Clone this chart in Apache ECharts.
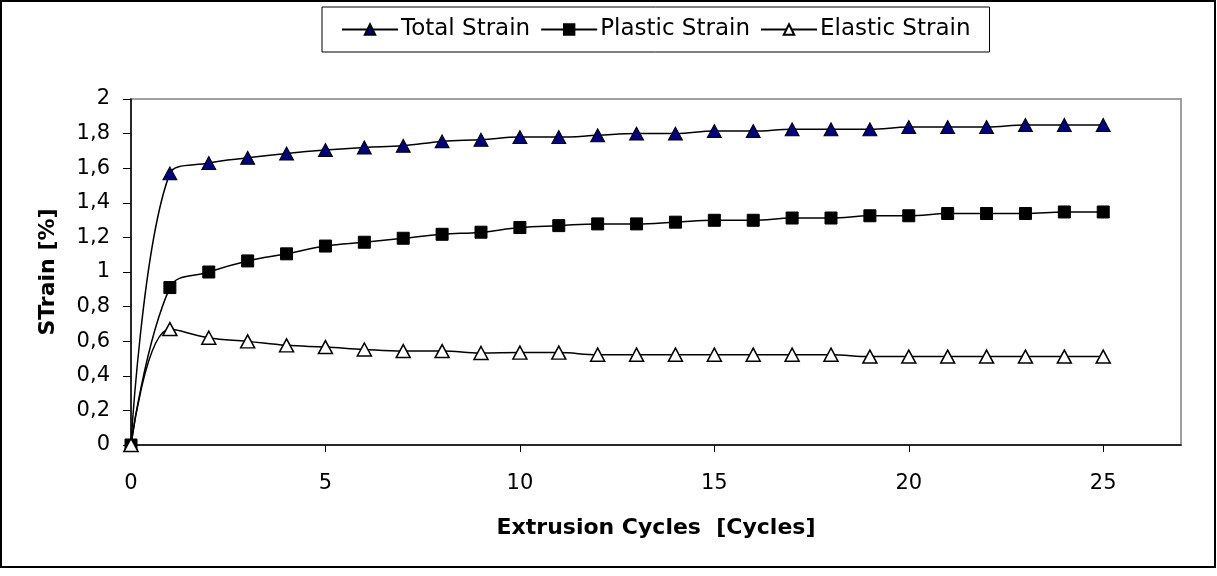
<!DOCTYPE html>
<html>
<head>
<meta charset="utf-8">
<script src="https://cdn.jsdelivr.net/npm/echarts@6/dist/echarts.min.js"></script>
<style>
  html, body { margin: 0; padding: 0; background: #fff; }
  #myCharts { width: 1217px; height: 576px; }
</style>
</head>
<body>
<div id="myCharts"></div>
<script>
const chart = echarts.init(document.getElementById("myCharts"));

// extrusion cycles
const cycles = [0, 1, 2, 3, 4, 5, 6, 7, 8, 9, 10, 11, 12, 13, 14, 15, 16, 17, 18, 19, 20, 21, 22, 23, 24, 25];

// strain values [%]
const totalStrain = [0, 1.57, 1.63, 1.66, 1.685, 1.705, 1.72, 1.73, 1.755, 1.765, 1.78, 1.78, 1.79, 1.80, 1.80, 1.815, 1.815, 1.825, 1.825, 1.825, 1.838, 1.838, 1.838, 1.85, 1.85, 1.85];
const plasticStrain = [0, 0.91, 1.00, 1.064, 1.105, 1.15, 1.172, 1.195, 1.218, 1.23, 1.257, 1.268, 1.278, 1.278, 1.288, 1.299, 1.299, 1.312, 1.312, 1.325, 1.325, 1.338, 1.338, 1.338, 1.347, 1.347];
const elasticStrain = [0, 0.67, 0.62, 0.599, 0.576, 0.566, 0.552, 0.543, 0.543, 0.532, 0.534, 0.534, 0.522, 0.522, 0.522, 0.522, 0.522, 0.522, 0.522, 0.511, 0.511, 0.511, 0.511, 0.511, 0.511, 0.511];

const yTicks = ["0", "0,2", "0,4", "0,6", "0,8", "1", "1,2", "1,4", "1,6", "1,8", "2"];

const font = "DejaVu Sans";

const pairs = arr => cycles.map((c, i) => [c, arr[i]]);

const options = {
    animation: false,
    backgroundColor: "#fff",
    textStyle: { fontFamily: font, color: "#000" },
    graphic: [{
        type: "rect",
        shape: { x: 1, y: 1, width: 1214, height: 566 },
        style: { fill: null, stroke: "#000", lineWidth: 2 },
        silent: true
    }],
    legend: {
        left: 322,
        top: 7,
        padding: [11, 19],
        itemGap: 10,
        itemWidth: 56,
        itemHeight: 13,
        borderColor: "#000",
        borderWidth: 1,
        textStyle: { fontFamily: font, fontSize: 23, color: "#000", padding: [0, 0, 0, -2] },
        data: ["Total Strain", "Plastic Strain", "Elastic Strain"]
    },
    grid: {
        left: 131,
        right: 36,
        top: 99,
        bottom: 131,
        show: true,
        borderColor: "#a0a0a0",
        borderWidth: 2,
        containLabel: false
    },
    xAxis: {
        type: "value",
        min: 0,
        max: 27,
        interval: 5,
        name: "Extrusion Cycles  [Cycles]",
        nameLocation: "middle",
        nameGap: 72,
        nameTextStyle: { fontFamily: font, fontSize: 22, fontWeight: "bold", color: "#000" },
        axisLine: { onZero: false, lineStyle: { color: "#000", width: 1.5 } },
        axisTick: { show: true, inside: false, length: 7, lineStyle: { color: "#000" } },
        axisLabel: {
            margin: 28,
            fontSize: 21,
            color: "#000",
            showMaxLabel: false,
            formatter: v => (v % 5 === 0 ? String(v) : "")
        },
        splitLine: { show: false }
    },
    yAxis: {
        type: "value",
        min: 0,
        max: 2,
        interval: 0.2,
        name: "STrain [%]",
        nameLocation: "middle",
        nameGap: 72,
        nameTextStyle: { fontFamily: font, fontSize: 22, fontWeight: "bold", color: "#000" },
        axisLine: { show: true, lineStyle: { color: "#000", width: 1.5 } },
        axisTick: { show: true, inside: false, length: 8, lineStyle: { color: "#000" } },
        axisLabel: {
            margin: 21,
            fontSize: 21,
            color: "#000",
            formatter: (v, i) => yTicks[i]
        },
        splitLine: { show: false }
    },
    series: [
        {
            name: "Total Strain",
            type: "line",
            smooth: 0.4,
            data: pairs(totalStrain),
            symbol: "triangle",
            symbolSize: [14, 13],
            lineStyle: { color: "#000", width: 1.5 },
            itemStyle: { color: "#000080", borderColor: "#000", borderWidth: 1 }
        },
        {
            name: "Plastic Strain",
            type: "line",
            smooth: 0.4,
            data: pairs(plasticStrain),
            symbol: "rect",
            symbolSize: 12,
            lineStyle: { color: "#000", width: 1.5 },
            itemStyle: { color: "#000", borderColor: "#000", borderWidth: 1 }
        },
        {
            name: "Elastic Strain",
            type: "line",
            smooth: 0.4,
            data: pairs(elasticStrain),
            symbol: "triangle",
            symbolSize: [14, 13],
            lineStyle: { color: "#000", width: 1.5 },
            itemStyle: { color: "#fff", borderColor: "#000", borderWidth: 1.5 }
        }
    ]
};

chart.setOption(options);
</script>
</body>
</html>
